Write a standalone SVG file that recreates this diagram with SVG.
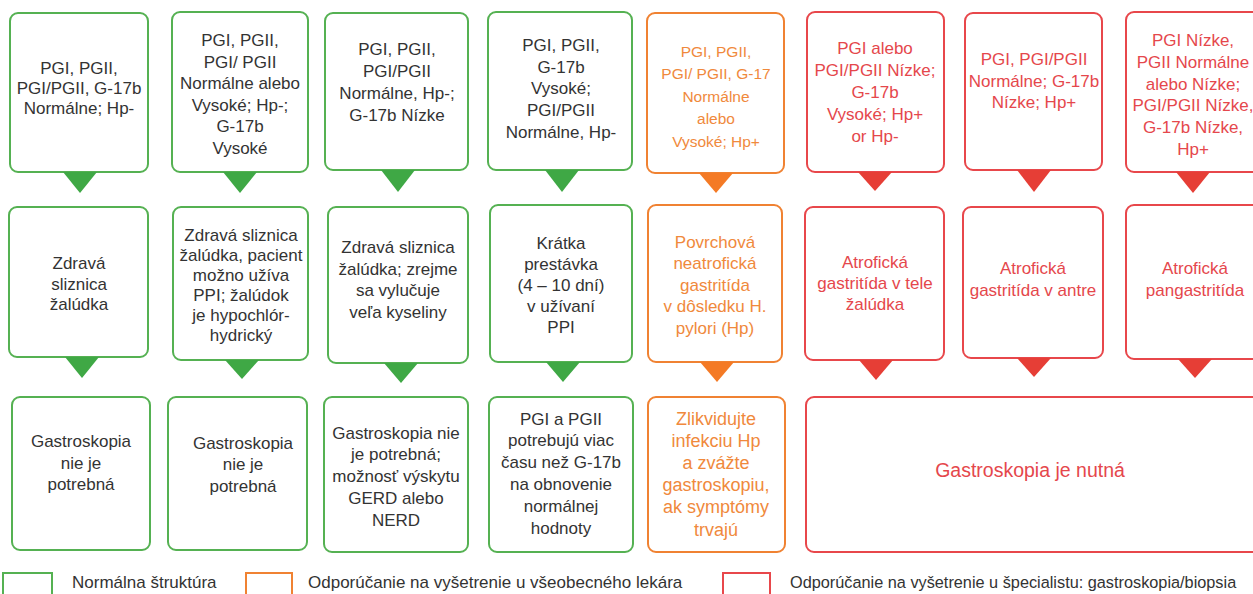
<svg xmlns="http://www.w3.org/2000/svg" width="1253" height="594" viewBox="0 0 1253 594">
<style>
text{font-family:"Liberation Sans",Arial,sans-serif;text-anchor:middle}
.g rect{fill:#fff;stroke:#55b152;stroke-width:2}
.o rect{fill:#fff;stroke:#f08232;stroke-width:2}
.r rect{fill:#fff;stroke:#e8474b;stroke-width:2}
.g text{fill:#333;font-size:17px}
.o text{fill:#f0893c;font-size:17px}
.r text{fill:#e5474c;font-size:17px}
.tg{fill:#3fa845}
.to{fill:#f47a25}
.tr{fill:#e63e36}
.leg text{font-size:17px;fill:#333;text-anchor:start}
</style>
<rect width="1253" height="594" fill="#fff"/>

<!-- Row 1 -->
<g id="r1n1" class="g"><rect x="10" y="13" width="138" height="159" rx="8"/>
<text x="79" y="74">PGI, PGII,</text><text x="79" y="94">PGI/PGII, G-17b</text><text x="79" y="114">Normálne; Hp-</text></g>
<g id="r1n2" class="g"><rect x="172" y="12" width="136" height="160" rx="8"/>
<text x="240" y="46">PGI, PGII,</text><text x="240" y="67.6">PGI/ PGII</text><text x="240" y="89.2">Normálne alebo</text><text x="240" y="110.8">Vysoké; Hp-;</text><text x="240" y="132.4">G-17b</text><text x="240" y="154">Vysoké</text></g>
<g id="r1n3" class="g"><rect x="325" y="13" width="143" height="157" rx="8"/>
<text x="397" y="55">PGI, PGII,</text><text x="397" y="77">PGI/PGII</text><text x="397" y="99">Normálne, Hp-;</text><text x="397" y="121">G-17b Nízke</text></g>
<g id="r1n4" class="g"><rect x="488" y="12" width="144" height="158" rx="8"/>
<text x="561" y="51">PGI, PGII,</text><text x="561" y="72.7">G-17b</text><text x="561" y="94.4">Vysoké;</text><text x="561" y="116.1">PGI/PGII</text><text x="561" y="137.8">Normálne,  Hp-</text></g>
<g id="r1n5" class="o"><rect x="647" y="13" width="137" height="160" rx="8"/>
<text x="716" y="56.5" style="font-size:15.5px">PGI, PGII,</text><text x="716" y="79" style="font-size:15.5px">PGI/ PGII, G-17</text><text x="716" y="101.5" style="font-size:15.5px">Normálne</text><text x="716" y="124" style="font-size:15.5px">alebo</text><text x="716" y="146.5" style="font-size:15.5px">Vysoké; Hp+</text></g>
<g id="r1n6" class="r"><rect x="807" y="12" width="137" height="160" rx="8"/>
<text x="875" y="54">PGI alebo</text><text x="875" y="76">PGI/PGII Nízke;</text><text x="875" y="98">G-17b</text><text x="875" y="120">Vysoké; Hp+</text><text x="875" y="142">or Hp-</text></g>
<g id="r1n7" class="r"><rect x="965" y="13" width="137" height="157" rx="8"/>
<text x="1034" y="65">PGI, PGI/PGII</text><text x="1034" y="86.5">Normálne; G-17b</text><text x="1034" y="108">Nízke; Hp+</text></g>
<g id="r1n8" class="r"><rect x="1126" y="12" width="136" height="160" rx="8"/>
<text x="1193" y="46">PGI Nízke,</text><text x="1193" y="67.8">PGII Normálne</text><text x="1193" y="89.6">alebo Nízke;</text><text x="1193" y="111.4">PGI/PGII Nízke,</text><text x="1193" y="133.2">G-17b Nízke,</text><text x="1193" y="155">Hp+</text></g>

<!-- Row 2 -->
<g id="r2n1" class="g"><rect x="9" y="207" width="139" height="150" rx="8"/>
<text x="79" y="269">Zdravá</text><text x="79" y="289.5">sliznica</text><text x="79" y="310">žalúdka</text></g>
<g id="r2n2" class="g"><rect x="173" y="207" width="135" height="153" rx="8"/>
<text x="241" y="241">Zdravá sliznica</text><text x="241" y="261">žalúdka, pacient</text><text x="241" y="281">možno užíva</text><text x="241" y="301">PPI; žalúdok</text><text x="241" y="321">je hypochlór-</text><text x="241" y="341">hydrický</text></g>
<g id="r2n3" class="g"><rect x="328" y="207" width="140" height="156" rx="8"/>
<text x="398" y="253">Zdravá sliznica</text><text x="398" y="274.5">žalúdka; zrejme</text><text x="398" y="296">sa vylučuje</text><text x="398" y="317.5">veľa kyseliny</text></g>
<g id="r2n4" class="g"><rect x="490" y="205" width="142" height="157" rx="8"/>
<text x="561" y="249">Krátka</text><text x="561" y="270">prestávka</text><text x="561" y="291">(4 – 10 dní)</text><text x="561" y="312">v užívaní</text><text x="561" y="333">PPI</text></g>
<g id="r2n5" class="o"><rect x="648" y="205" width="134" height="157" rx="8"/>
<text x="715" y="247.5">Povrchová</text><text x="715" y="269">neatrofická</text><text x="715" y="290.5">gastritída</text><text x="715" y="312">v dôsledku H.</text><text x="715" y="333.5">pylori (Hp)</text></g>
<g id="r2n6" class="r"><rect x="805" y="207" width="139" height="153" rx="8"/>
<text x="875" y="268">Atrofická</text><text x="875" y="289">gastritída v tele</text><text x="875" y="310">žalúdka</text></g>
<g id="r2n7" class="r"><rect x="963" y="207" width="140" height="151" rx="8"/>
<text x="1033" y="274">Atrofická</text><text x="1033" y="296">gastritída v antre</text></g>
<g id="r2n8" class="r"><rect x="1126" y="205" width="136" height="154" rx="8"/>
<text x="1195" y="274">Atrofická</text><text x="1195" y="296">pangastritída</text></g>

<!-- Row 3 -->
<g id="r3n1" class="g"><rect x="12" y="397" width="138" height="153" rx="8"/>
<text x="81" y="447">Gastroskopia</text><text x="81" y="468.5">nie je</text><text x="81" y="490">potrebná</text></g>
<g id="r3n2" class="g"><rect x="168" y="397" width="139" height="153" rx="8"/>
<text x="243" y="448.5">Gastroskopia</text><text x="243" y="470">nie je</text><text x="243" y="491.5">potrebná</text></g>
<g id="r3n3" class="g"><rect x="324" y="397" width="144" height="155" rx="8"/>
<text x="396" y="438.5">Gastroskopia nie</text><text x="396" y="460.4">je potrebná;</text><text x="396" y="482.3">možnosť výskytu</text><text x="396" y="504.2">GERD alebo</text><text x="396" y="526.1">NERD</text></g>
<g id="r3n4" class="g"><rect x="489" y="397" width="144" height="155" rx="8"/>
<text x="561" y="424.5">PGI a PGII</text><text x="561" y="446.4">potrebujú viac</text><text x="561" y="468.3">času než G-17b</text><text x="561" y="490.2">na obnovenie</text><text x="561" y="512.1">normálnej</text><text x="561" y="534">hodnoty</text></g>
<g id="r3n5" class="o"><rect x="648" y="397" width="137" height="155" rx="8"/>
<text x="716" y="424.5" style="font-size:18px">Zlikvidujte</text><text x="716" y="446.7" style="font-size:18px">infekciu Hp</text><text x="716" y="468.9" style="font-size:18px">a zvážte</text><text x="716" y="491.1" style="font-size:18px">gastroskopiu,</text><text x="716" y="513.3" style="font-size:18px">ak symptómy</text><text x="716" y="535.5" style="font-size:18px">trvajú</text></g>
<g id="r3n6" class="r"><rect x="806" y="397" width="460" height="155" rx="8"/>
<text x="1030" y="477" style="font-size:19.5px">Gastroskopia je nutná</text></g>

<!-- Connectors (pointer triangles) -->
<g id="connectors">
<polygon class="tg" points="63,172 97,172 80,193"/>
<polygon class="tg" points="223,172 257,172 240,193"/>
<polygon class="tg" points="381,170 415,170 398,192"/>
<polygon class="tg" points="545,170 579,170 562,192"/>
<polygon class="to" points="699,173 733,173 716,193"/>
<polygon class="tr" points="858,172 892,172 875,191"/>
<polygon class="tr" points="1017,170 1051,170 1034,192"/>
<polygon class="tr" points="1176,172 1210,172 1193,193"/>
<polygon class="tg" points="65,357 99,357 82,378"/>
<polygon class="tg" points="225,360 259,360 242,379"/>
<polygon class="tg" points="384,363 418,363 401,383"/>
<polygon class="tg" points="546,362 580,362 563,382"/>
<polygon class="to" points="700,362 734,362 717,382"/>
<polygon class="tr" points="859,360 893,360 876,380"/>
<polygon class="tr" points="1017,358 1051,358 1034,377"/>
<polygon class="tr" points="1178,359 1212,359 1195,378"/>
</g>

<!-- Legend -->
<g id="legend" class="leg">
<rect x="3" y="573" width="49" height="30" fill="#fff" stroke="#55b152" stroke-width="2"/>
<text x="72" y="588">Normálna štruktúra</text>
<rect x="246" y="573" width="46" height="30" fill="#fff" stroke="#f08232" stroke-width="2"/>
<text x="308" y="588">Odporúčanie na vyšetrenie u všeobecného lekára</text>
<rect x="723" y="573" width="47" height="30" fill="#fff" stroke="#e8474b" stroke-width="2"/>
<text x="790" y="588" style="font-size:16.3px">Odporúčanie na vyšetrenie u špecialistu: gastroskopia/biopsia</text>
</g>
</svg>
